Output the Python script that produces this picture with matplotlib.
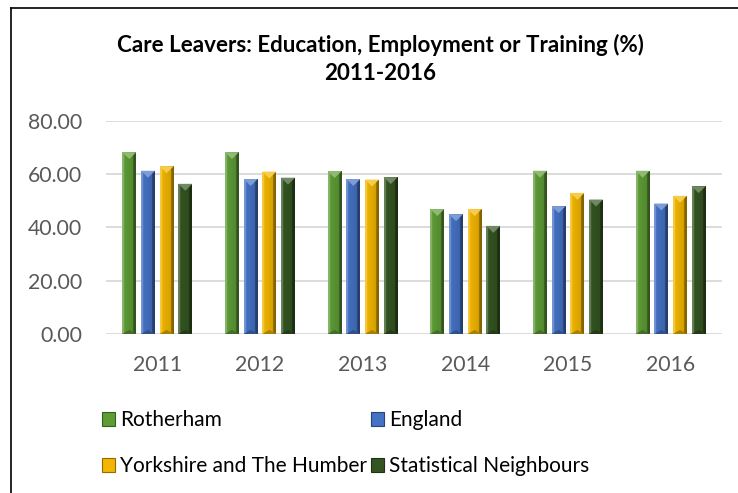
import matplotlib.pyplot as plt
import matplotlib.colors as mcolors
import numpy as np
from matplotlib.patches import Rectangle, Polygon

plt.rcParams['font.family'] = ['Lato', 'DejaVu Sans']

years = ['2011', '2012', '2013', '2014', '2015', '2016']
rotherham = [68.3, 68.3, 61.2, 46.9, 61.3, 61.3]
england = [61.3, 58.2, 58.2, 45.0, 48.0, 49.0]
yorkshire = [63.0, 61.0, 58.0, 46.9, 53.0, 51.9]
neighbours = [56.4, 58.7, 58.9, 40.6, 50.5, 55.5]

series = [
    ('Rotherham', rotherham, '#5e9c36'),
    ('England', england, '#4472c4'),
    ('Yorkshire and The Humber', yorkshire, '#f2b600'),
    ('Statistical Neighbours', neighbours, '#345522'),
]

fig = plt.figure(figsize=(7.38, 4.93), dpi=100)
ax = fig.add_axes([0.1436, 0.3225, 0.8347, 0.4321])

# thin frame on the left and top edges
fig.add_artist(plt.Line2D([11 / 738, 11 / 738], [0, 1 - 8 / 493], color='black', lw=1.2))
fig.add_artist(plt.Line2D([11 / 738, 1], [1 - 8 / 493, 1 - 8 / 493], color='black', lw=1.2))


def shade(col, f):
    c = np.array(mcolors.to_rgb(col))
    if f >= 1:
        return c + (1 - c) * (f - 1)
    return c * f


def bevel_bar(ax, x, h, w, col):
    # horizontal shading: lighter left edge, darker right edge
    n = 40
    t = np.linspace(0, 1, n)
    prof = np.where(t < 0.15, 1.25, np.where(t > 0.8, 0.55, 1.0 - 0.15 * t))
    img = np.array([[shade(col, p) for p in prof]])
    rect = Rectangle((x - w / 2, 0), w, h, facecolor='none', edgecolor='none')
    ax.add_patch(rect)
    im = ax.imshow(img, extent=(x - w / 2, x + w / 2, 0, h), aspect='auto',
                   interpolation='bilinear', zorder=3)
    im.set_clip_path(rect)
    d = 2.6
    top = Polygon([(x - w / 2, h), (x + w / 2, h), (x, h - d)], closed=True,
                  facecolor=shade(col, 1.3), edgecolor='none', zorder=4)
    ax.add_patch(top)
    bot = Polygon([(x - w / 2, 0), (x + w / 2, 0), (x, d * 0.6)], closed=True,
                  facecolor=shade(col, 0.7), edgecolor='none', zorder=4)
    ax.add_patch(bot)


x = np.arange(len(years))
pitch = 0.182
width = 0.136
for i, (name, vals, col) in enumerate(series):
    off = (i - 1.5) * pitch
    for xi, v in zip(x, vals):
        bevel_bar(ax, xi + off, v, width, col)

ax.set_xlim(-0.5, len(years) - 0.5)
ax.set_ylim(0, 80)
ax.set_yticks(np.arange(0, 81, 20))
ax.set_yticklabels([f'{v:.2f}' for v in np.arange(0, 81, 20)])
ax.set_xticks(x)
ax.set_xticklabels(years)
ax.yaxis.grid(True, color='#d9d9d9', lw=1.3)
ax.set_axisbelow(True)
for s in ax.spines.values():
    s.set_visible(False)
ax.tick_params(length=0, labelsize=15.3, colors='#595959')
ax.tick_params(axis='y', pad=17)
ax.tick_params(axis='x', pad=15)

fig.text(380 / 738, 1 - 45 / 493, 'Care Leavers: Education, Employment or Training (%)',
         ha='center', va='center', fontsize=16.1, fontweight='bold')
fig.text(380 / 738, 1 - 73 / 493, '2011-2016',
         ha='center', va='center', fontsize=16.1, fontweight='bold')

# legend fills column by column, so order entries to read row-wise
order = [0, 2, 1, 3]
handles = [Rectangle((0, 0), 1, 1, facecolor=series[k][2],
                     edgecolor=shade(series[k][2], 0.6), lw=0.8) for k in order]
labels = [series[k][0] for k in order]
fig.legend(handles, labels, ncol=2, loc='upper left',
           bbox_to_anchor=(94 / 738, 1 - 402 / 493), frameon=False,
           fontsize=15, handlelength=0.6, handleheight=0.6, handletextpad=0.25,
           columnspacing=0.2, labelspacing=1.25, borderaxespad=0)

fig.savefig('out.png', dpi=100)
